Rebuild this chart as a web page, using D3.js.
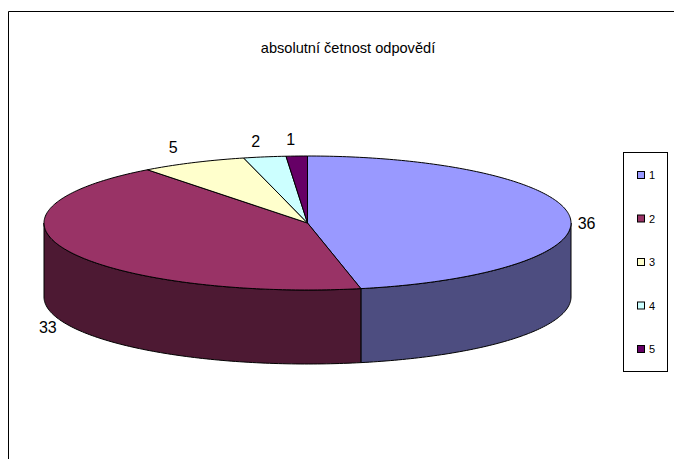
<!DOCTYPE html>
<html>
<head>
<meta charset="utf-8" />
<title>absolutní četnost odpovědí</title>
<script src="https://d3js.org/d3.v7.min.js"></script>
<style>
  body { margin: 0; background: #fff; }
  svg { display: block; }
  text { font-family: "Liberation Sans", Arial, sans-serif; fill: #000; }
</style>
</head>
<body>
<div id="chart"></div>
<script>
// chart data
var titleText = "absolutní četnost odpovědí";
var categories = ["1", "2", "3", "4", "5"];
var answers = [36, 33, 5, 2, 1];
var topColors = ["#9999ff", "#993366", "#ffffcc", "#ccffff", "#660066"];
var sideColors = ["#4d4d80", "#4d1933", "#808066", "#668080", "#330033"];

var width = 674, height = 459;

var svg = d3.select("#chart")
  .append("svg")
    .attr("width", width)
    .attr("height", height);

// chart frame, only the top and left edges fall inside the picture
svg.append("path")
  .attr("d", "M8.5," + height + "V11.5H" + width)
  .attr("fill", "none")
  .attr("stroke", "#000");

svg.append("text")
  .attr("x", 348)
  .attr("y", 53)
  .attr("text-anchor", "middle")
  .style("font-size", "14.6px")
  .text(titleText);

// the pie, flattened to an ellipse
var cx = 307.5, cy = 223, rx = 263.5, ry = 67, depth = 74;

// x/y scales map the unit circle onto the ellipse
var x = d3.scaleLinear().domain([-1, 1]).range([cx - rx, cx + rx]);
var y = d3.scaleLinear().domain([-1, 1]).range([cy - ry, cy + ry]);

var arcs = d3.pie().sort(null).value(function(d) { return d; })(answers);

function rimPoint(a, drop) {
  return [x(Math.sin(a)), y(-Math.cos(a)) + (drop || 0)];
}

// points along the rim from angle a0 to a1
function rim(a0, a1, drop) {
  var n = Math.max(2, Math.ceil((a1 - a0) * 60));
  return d3.range(n + 1).map(function(i) {
    return rimPoint(a0 + (a1 - a0) * i / n, drop);
  });
}

var line = d3.line();

// side walls, only the front half of the rim shows
svg.append("g")
  .selectAll("path")
  .data(arcs.filter(function(d) {
    return d.endAngle > Math.PI / 2 && d.startAngle < Math.PI * 1.5;
  }))
  .enter()
  .append("path")
    .attr("d", function(d) {
      var a0 = Math.max(d.startAngle, Math.PI / 2);
      var a1 = Math.min(d.endAngle, Math.PI * 1.5);
      return line(rim(a0, a1, 0).concat(rim(a0, a1, depth).reverse())) + "Z";
    })
    .style("fill", function(d) { return sideColors[d.index]; })
    .style("stroke", "#000")
    .style("stroke-width", 1);

// top faces
svg.append("g")
  .selectAll("path")
  .data(arcs)
  .enter()
  .append("path")
    .attr("d", function(d) {
      return line([[x(0), y(0)]].concat(rim(d.startAngle, d.endAngle, 0))) + "Z";
    })
    .style("fill", function(d) { return topColors[d.index]; })
    .style("stroke", "#000")
    .style("stroke-width", 1);

// value labels, nudged off the rim by hand like the original
var labelNudge = [[17, 13], [-20, 82], [-20, -10], [-9, -10], [-6, -11]];

svg.append("g")
  .selectAll("text")
  .data(arcs)
  .enter()
  .append("text")
    .attr("x", function(d) { return rimPoint((d.startAngle + d.endAngle) / 2)[0] + labelNudge[d.index][0]; })
    .attr("y", function(d) { return rimPoint((d.startAngle + d.endAngle) / 2)[1] + labelNudge[d.index][1]; })
    .attr("text-anchor", "middle")
    .style("font-size", "16px")
    .text(function(d) { return d.data; });

// legend
var legendY = d3.scalePoint()
  .domain(categories)
  .range([175, 349]);

svg.append("rect")
  .attr("x", 623.5)
  .attr("y", 152.5)
  .attr("width", 44)
  .attr("height", 219)
  .attr("fill", "#fff")
  .attr("stroke", "#000");

var legendItems = svg.append("g")
  .selectAll("g")
  .data(categories)
  .enter()
  .append("g")
    .attr("transform", function(d) { return "translate(637," + legendY(d) + ")"; });

legendItems.append("rect")
  .attr("x", 0.5)
  .attr("y", -3.5)
  .attr("width", 7)
  .attr("height", 7)
  .style("fill", function(d, i) { return topColors[i]; })
  .style("stroke", "#000");

legendItems.append("text")
  .attr("x", 12)
  .attr("y", 4)
  .style("font-size", "11px")
  .text(function(d) { return d; });
</script>
</body>
</html>
